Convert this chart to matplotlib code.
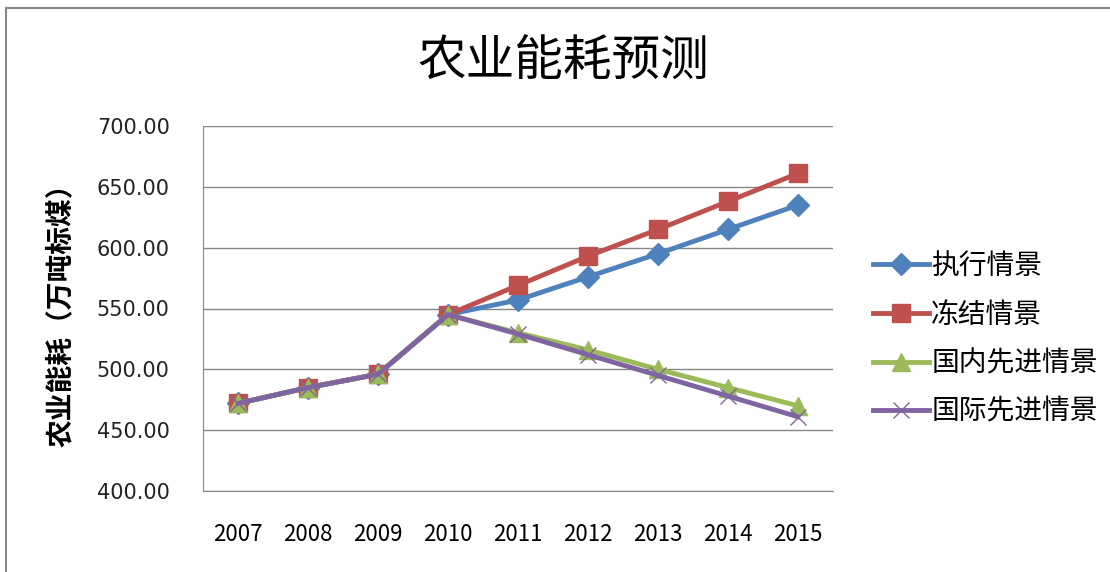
import matplotlib
matplotlib.use("Agg")
import matplotlib.pyplot as plt
from matplotlib.patches import Rectangle

plt.rcParams['font.family'] = ['Noto Sans CJK SC', 'DejaVu Sans']

years = ["2007", "2008", "2009", "2010", "2011", "2012", "2013", "2014", "2015"]
zhixing = [472, 485, 496, 545, 557, 576, 595, 615, 635]
dongjie = [472, 485, 496, 545, 569, 593, 615, 638, 661]
guonei = [472, 485, 496, 545, 530, 516, 500, 485, 470]
guoji = [472, 485, 496, 545, 529, 512, 495, 478, 461]
names = ["执行情景", "冻结情景", "国内先进情景", "国际先进情景"]

fig = plt.figure(figsize=(11.1, 5.72), dpi=100)
ax = fig.add_axes([203/1110, 1-491/572, 630/1110, 365/572])

x = range(len(years))
ax.plot(x, zhixing, color="#4F81BD", lw=3.5, marker="D", ms=11, label=names[0])
ax.plot(x, dongjie, color="#C0504D", lw=3.5, marker="s", ms=13, label=names[1])
ax.plot(x, guonei, color="#9BBB59", lw=3.5, marker="^", ms=13, label=names[2])
ax.plot(x, guoji, color="#8064A2", lw=3.5, marker="x", ms=12, mew=1, label=names[3])

ax.set_xlim(-0.5, 8.5)
ax.set_ylim(400, 700)
ax.set_yticks(range(400, 701, 50))
ax.set_yticklabels(["%.2f" % v for v in range(400, 701, 50)], fontsize=15,
                   family="DejaVu Sans", color="#222222")
ax.set_xticks(list(x))
ax.set_xticklabels(years, fontsize=16)
ax.tick_params(axis="y", length=0, pad=24)
ax.tick_params(axis="x", length=0, pad=23)
ax.grid(axis="y", color="#868686", lw=1)
ax.set_axisbelow(True)
for s in ["top", "right"]:
    ax.spines[s].set_visible(False)
ax.spines["left"].set_color("#868686")
ax.spines["bottom"].set_color("#868686")

ax.set_ylabel("农业能耗（万吨标煤）", fontsize=20, fontweight="bold", labelpad=16)
fig.text(563/1110, 1-62/572, "农业能耗预测", fontsize=35, ha="center", va="center")

fig.legend(loc="center left", bbox_to_anchor=(873/1110, 1-339/572), frameon=False,
           fontsize=20, handlelength=2.0, labelspacing=0.67, handletextpad=0.1,
           borderpad=0, borderaxespad=0)

fig.patches.append(Rectangle((6/1110, -0.01), 1.1, 1-8/572+0.01, transform=fig.transFigure,
                             fill=False, edgecolor="#868686", lw=1.5))

plt.savefig("out.png", dpi=100)
